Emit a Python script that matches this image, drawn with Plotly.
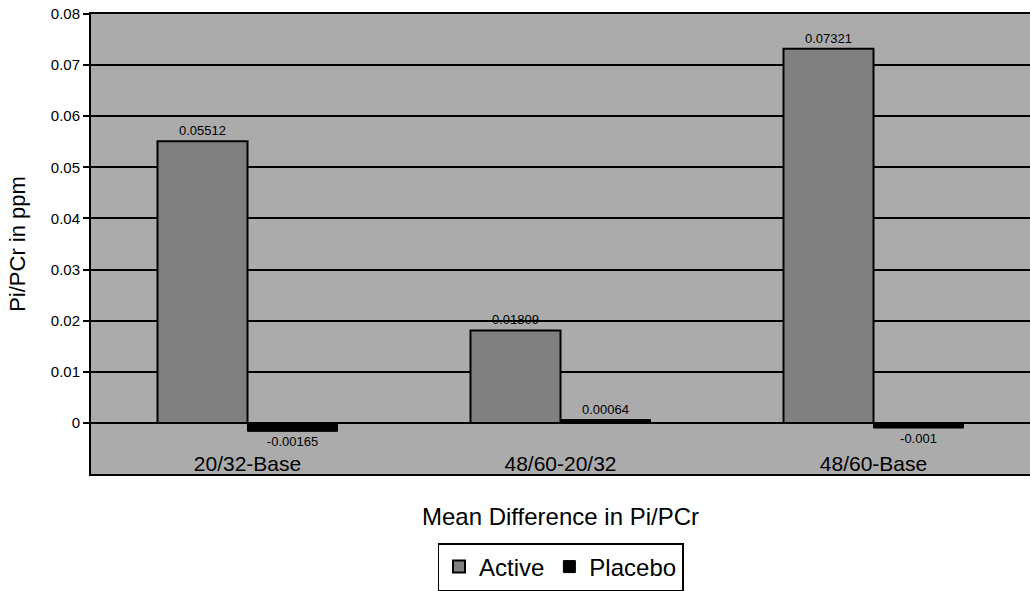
import plotly.graph_objects as go

categories = ["20/32-Base", "48/60-20/32", "48/60-Base"]
active = [0.05512, 0.01809, 0.07321]
placebo = [-0.00165, 0.00064, -0.001]
active_labels = ["0.05512", "0.01809", "0.07321"]
placebo_labels = ["-0.00165", "0.00064", "-0.001"]
y_ticks = [-0.01, 0, 0.01, 0.02, 0.03, 0.04, 0.05, 0.06, 0.07, 0.08]
y_tick_text = ["-0.01", "0", "0.01", "0.02", "0.03", "0.04", "0.05", "0.06", "0.07", "0.08"]

font = "Liberation Sans, Arial, sans-serif"

fig = go.Figure()
fig.add_trace(go.Bar(
    name="Active", x=categories, y=active,
    marker=dict(color="#808080", line=dict(color="black", width=2)),
    text=active_labels, textposition="outside", cliponaxis=False,
    textfont=dict(size=13, color="black", family=font),
))
fig.add_trace(go.Bar(
    name="Placebo", x=categories, y=placebo,
    marker=dict(color="#000000", line=dict(color="black", width=1)),
    text=placebo_labels, textposition="outside", cliponaxis=False,
    textfont=dict(size=13, color="black", family=font),
))

fig.update_layout(
    width=1030, height=591,
    margin=dict(l=91, r=0, t=14, b=113),
    paper_bgcolor="white",
    plot_bgcolor="#ababab",
    barmode="group",
    bargap=0.425,
    bargroupgap=0,
    font=dict(family=font, color="black"),
    showlegend=True,
    legend=dict(
        orientation="h", x=0.5, xanchor="center", y=-0.15, yanchor="top",
        bordercolor="black", borderwidth=1.5, bgcolor="white",
        font=dict(size=24, family=font, color="black"), itemwidth=30, tracegroupgap=0,
    ),
)

fig.update_xaxes(
    type="category",
    ticklabelposition="inside",
    tickfont=dict(size=21, family=font, color="black"),
    showline=True, linecolor="black", linewidth=2,
    showgrid=False, mirror=True,
    title=dict(text="Mean Difference in Pi/PCr", font=dict(size=24, family=font, color="black"), standoff=34),
    ticks="",
)
fig.update_yaxes(
    range=[-0.01, 0.08],
    tickvals=y_ticks, ticktext=y_tick_text,
    tickfont=dict(size=15, family=font, color="black"),
    showline=True, linecolor="black", linewidth=2,
    ticks="outside", ticklen=6, tickcolor="black", tickwidth=2,
    showgrid=True, gridcolor="black", gridwidth=2,
    zeroline=True, zerolinecolor="black", zerolinewidth=2,
    title=dict(text="Pi/PCr in ppm", font=dict(size=22, family=font, color="black"), standoff=14),
)

fig.write_html("out.html")
